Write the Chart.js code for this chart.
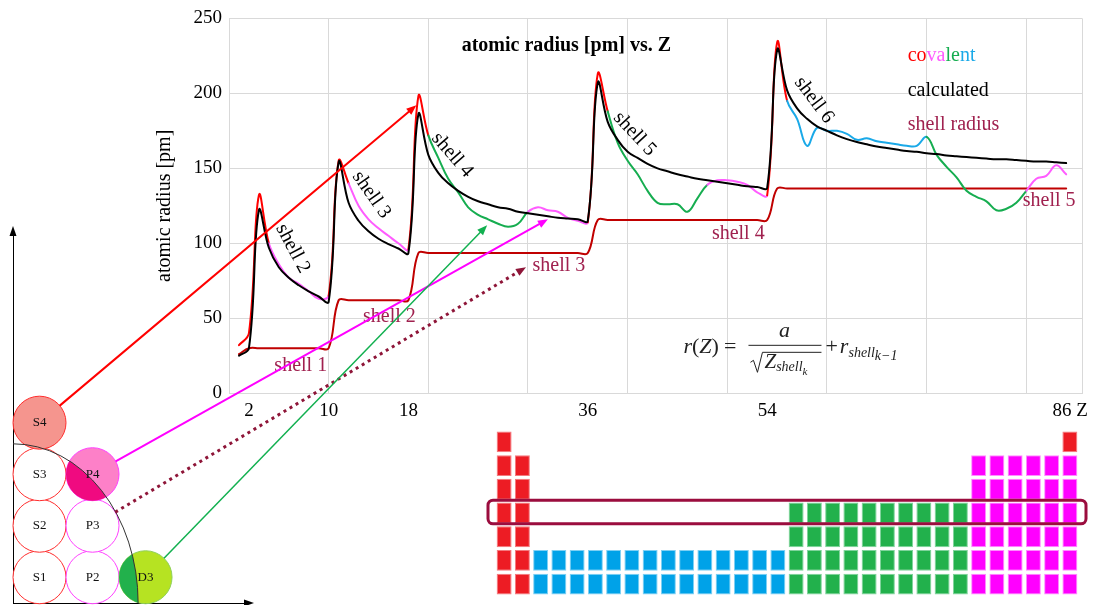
<!DOCTYPE html>
<html>
<head>
<meta charset="utf-8">
<script src="https://cdn.jsdelivr.net/npm/chart.js@4.4.1/dist/chart.umd.min.js"></script>
<style>
  body { margin: 0; background: #fff; }
  #wrap { position: relative; width: 1094px; height: 605px; overflow: hidden; }
  canvas { position: absolute; }
  #shells { left: 0; top: 220px; }
  #table { left: 480px; top: 425px; }
  #radius { left: 0; top: 0; }
</style>
</head>
<body>
<div id="wrap">
  <canvas id="shells" width="270" height="385"></canvas>
  <canvas id="table" width="614" height="180"></canvas>
  <canvas id="radius" width="1094" height="605"></canvas>
</div>
<script>
// ---- data, Z = index + 1 (H .. Po) ----
const covalent = [
  32, 40, 132, 100, 86, 77, 73, 68, 63, 65,
  155, 140, 125, 116, 110, 105, 100, 96,
  198, 172, 157, 143, 134, 124, 119, 116, 113, 111, 113, 121, 124, 122, 121, 117, 115, 114,
  213, 188, 167, 155, 146, 135, 127, 126, 126, 121, 130, 139, 142, 142, 141, 139, 134, 132,
  234, 195, 183, 165, 177, 175, 175, 173, 169, 170, 168, 167, 166, 165, 165, 171,
  159, 151, 144, 135, 131, 128, 122, 123, 127, 135, 143, 145, 152, 146
];
const calculated = [
  25, 30, 122, 97, 84, 77, 72, 68, 64.5, 61,
  154, 127, 115, 108, 103, 99.5, 96.5, 93.5,
  186, 159, 147, 140, 135, 131, 128, 126, 124, 123, 121, 120, 119, 118, 117, 116.5, 116, 115,
  207, 181, 169, 161, 157, 153, 150, 148, 146, 144.5, 143, 142, 141, 140, 139, 138, 137.5, 137,
  229, 202, 190, 183, 178, 175, 172, 169.5, 167.5, 166, 164.5, 163.5, 162.5, 161.5, 161, 160,
  159.5, 158.5, 158, 157.5, 157, 156.5, 156, 156, 155.5, 155, 154.5, 154.5, 154, 153.5
];
const shellRadius = [
  26, 30, 30, 30, 30, 30, 30, 30, 30, 30,
  62, 62, 62, 62, 62, 62, 62, 62,
  93.5, 93.5, 93.5, 93.5, 93.5, 93.5, 93.5, 93.5, 93.5, 93.5, 93.5, 93.5, 93.5, 93.5, 93.5, 93.5, 93.5, 93.5,
  115.5, 115.5, 115.5, 115.5, 115.5, 115.5, 115.5, 115.5, 115.5, 115.5, 115.5, 115.5, 115.5, 115.5, 115.5, 115.5, 115.5, 115.5,
  136.5, 136.5, 136.5, 136.5, 136.5, 136.5, 136.5, 136.5, 136.5, 136.5, 136.5, 136.5, 136.5, 136.5, 136.5,
  136.5, 136.5, 136.5, 136.5, 136.5, 136.5, 136.5, 136.5, 136.5, 136.5, 136.5, 136.5, 136.5, 136.5, 136.5
];
// block of each element (s, p, d, f)
const zBlock = 'sssspppppp' + 'sspppppp' + 'ssddddddddddpppppp' + 'ssddddddddddpppppp' +
  'ssffffffffffffffddddddddddpppp';

const gridZ = [0, 10, 20, 30, 40, 50, 60, 70, 80, 85.6];
const tickZ = [2, 10, 18, 36, 54, 84.4];
const tickText = ['2', '10', '18', '36', '54', '86 Z'];

// shell labels on the step line and on the calculated curve
const shellNames = ['shell 1', 'shell 2', 'shell 3', 'shell 4', 'shell 5'];
const shellNameZ = [7.2, 16.1, 33.1, 51.1, 82.3];
const shellNameR = [18, 51, 85, 106.4, 128.3];
const curveNames = ['shell 2', 'shell 3', 'shell 4', 'shell 5', 'shell 6'];
const curveNameZ = [6.4, 14.3, 22.4, 40.7, 58.7];
const curveNameR = [96.4, 132.3, 158.9, 172.9, 195.5];
const curveNameAngle = [62, 55, 49, 47, 53];

// orbital diagram
const orbitals = ['S1', 'S2', 'S3', 'S4', 'P2', 'P3', 'P4', 'D3'];
const orbitalCol = [0.5, 0.5, 0.5, 0.5, 1.5, 1.5, 1.5, 2.5];
const orbitalRow = [0.5, 1.5, 2.5, 3.5, 0.5, 1.5, 2.5, 0.5];
const boundaryRx = 2.36, boundaryRy = 3.09;

// arrows from orbitals into the radius chart
const arrowFrom = ['S4', 'P4', 'P3', 'D3'];
const arrowToZ = [18.8, 32.0, 29.8, 25.9];
const arrowToR = [192, 116, 84, 112];

// periodic table by block
const tableRows = [
  'S' + '..............................' + 'S',
  'SS' + '........................' + 'PPPPPP',
  'SS' + '........................' + 'PPPPPP',
  'SS' + '..............' + 'DDDDDDDDDD' + 'PPPPPP',
  'SS' + '..............' + 'DDDDDDDDDD' + 'PPPPPP',
  'SS' + 'FFFFFFFFFFFFFF' + 'DDDDDDDDDD' + 'PPPPPP',
  'SS' + 'FFFFFFFFFFFFFF' + 'DDDDDDDDDD' + 'PPPPPP'
];
const highlightPeriod = 4;

// ---- styles ----
const FONT = '"Liberation Serif"';
Chart.defaults.font.family = FONT;
const lineColor = { s: '#ff0000', p: '#ff5cff', d: '#16ad50', f: '#1aa9e8' };
const cellColor = { S: '#ed1c24', P: '#ff00ff', D: '#22b14c', F: '#00a2e8' };
const cellEdge = { S: '#f4797e', P: '#ff8cff', D: '#7fd39b', F: '#7fd0f3' };
const maroon = '#a0214f';
const orbitalFill = ['#fff', '#fff', '#fff', '#f5958e', '#fff', '#fff', '#fd80c8', '#b6e322'];
const orbitalEdge = ['#ff2d2d', '#ff2d2d', '#ff2d2d', '#ff2d2d', '#ff40ff', '#ff40ff', '#ff40ff', '#8fd05a'];
const orbitalInner = [null, null, null, null, null, null, '#f00a80', '#22b14c'];
const arrowStyle = [
  { color: '#ff0000', width: 2, dash: [] },
  { color: '#ff00ff', width: 2, dash: [] },
  { color: '#8e1538', width: 3, dash: [3, 4] },
  { color: '#12b050', width: 1.5, dash: [] }
];
const R = 26.5;

function arrow(ctx, x0, y0, x1, y1, st) {
  const a = Math.atan2(y1 - y0, x1 - x0), c = Math.cos(a), s = Math.sin(a);
  ctx.strokeStyle = st.color; ctx.fillStyle = st.color; ctx.lineWidth = st.width;
  ctx.setLineDash(st.dash);
  ctx.beginPath(); ctx.moveTo(x0, y0); ctx.lineTo(x1 - 8 * c, y1 - 8 * s); ctx.stroke();
  ctx.setLineDash([]);
  ctx.beginPath(); ctx.moveTo(x1, y1);
  ctx.lineTo(x1 - 10 * c + 4 * s, y1 - 10 * s - 4 * c);
  ctx.lineTo(x1 - 10 * c - 4 * s, y1 - 10 * s + 4 * c);
  ctx.closePath(); ctx.fill();
}

// ---- orbital diagram ----
const shellNotes = {
  id: 'shellNotes',
  afterDatasetsDraw(chart) {
    const { ctx, chartArea: a, scales: { x, y } } = chart;
    const ox = x.getPixelForValue(0), oy = y.getPixelForValue(0);
    const rx = x.getPixelForValue(boundaryRx) - ox, ry = oy - y.getPixelForValue(boundaryRy);
    ctx.save();
    ctx.beginPath(); ctx.ellipse(ox, oy, rx, ry, 0, 0, Math.PI * 2); ctx.clip();
    orbitals.forEach((n, i) => {
      if (!orbitalInner[i]) return;
      ctx.fillStyle = orbitalInner[i];
      ctx.beginPath();
      ctx.arc(x.getPixelForValue(orbitalCol[i]), y.getPixelForValue(orbitalRow[i]), R, 0, Math.PI * 2);
      ctx.fill();
    });
    ctx.restore();
    ctx.save();
    ctx.strokeStyle = '#333'; ctx.lineWidth = 1;
    ctx.beginPath(); ctx.ellipse(ox, oy, rx, ry, 0, -Math.PI / 2, 0); ctx.stroke();
    ctx.fillStyle = '#111'; ctx.font = '13px ' + FONT;
    ctx.textAlign = 'center'; ctx.textBaseline = 'middle';
    orbitals.forEach((n, i) => ctx.fillText(n, x.getPixelForValue(orbitalCol[i]), y.getPixelForValue(orbitalRow[i])));
    ctx.fillStyle = '#000';
    ctx.beginPath(); ctx.moveTo(a.left, a.top - 4); ctx.lineTo(a.left - 3.5, a.top + 6); ctx.lineTo(a.left + 3.5, a.top + 6); ctx.fill();
    ctx.beginPath(); ctx.moveTo(a.right + 4, a.bottom); ctx.lineTo(a.right - 6, a.bottom - 3.5); ctx.lineTo(a.right - 6, a.bottom + 3.5); ctx.fill();
    ctx.restore();
  }
};

const hidden = { grid: { display: false, drawTicks: false }, ticks: { display: false }, border: { color: '#000', width: 1 } };
const shellChart = new Chart(document.getElementById('shells'), {
  type: 'scatter',
  data: {
    datasets: [{
      data: orbitals.map((n, i) => ({ x: orbitalCol[i], y: orbitalRow[i] })),
      pointRadius: R,
      backgroundColor: orbitalFill,
      borderColor: orbitalEdge,
      borderWidth: 1,
      clip: false
    }]
  },
  options: {
    responsive: false, animation: false, events: [],
    layout: { autoPadding: false, padding: { left: 13, top: 10, right: 20, bottom: 2 } },
    plugins: { legend: { display: false }, tooltip: { enabled: false } },
    scales: {
      x: { min: 0, max: 4.47, ...hidden },
      y: { min: 0, max: 7.24, ...hidden }
    }
  },
  plugins: [shellNotes]
});

// ---- periodic table ----
const tableBox = {
  id: 'tableBox',
  afterDatasetsDraw(chart) {
    const { ctx, chartArea: a, scales: { y } } = chart;
    const t = y.getPixelForValue(highlightPeriod - 0.5), b = y.getPixelForValue(highlightPeriod + 0.5);
    ctx.save();
    ctx.strokeStyle = '#9b0d3e'; ctx.lineWidth = 3;
    ctx.beginPath(); ctx.roundRect(a.left - 7, t - 1, a.width + 14, b - t, 5); ctx.stroke();
    ctx.restore();
  }
};

new Chart(document.getElementById('table'), {
  type: 'bar',
  data: {
    labels: tableRows[0].split('').map((_, i) => i + 1),
    datasets: tableRows.map((row, r) => ({
      data: row.split('').map(ch => ch === '.' ? null : [r + 1 - 0.44, r + 1 + 0.44]),
      backgroundColor: row.split('').map(ch => cellColor[ch] || 'transparent'),
      borderColor: row.split('').map(ch => cellEdge[ch] || 'transparent'),
      borderWidth: 1,
      borderSkipped: false,
      barPercentage: 0.82,
      categoryPercentage: 1,
      grouped: false
    }))
  },
  options: {
    responsive: false, animation: false, events: [],
    layout: { padding: { left: 15, right: 15, top: 5, bottom: 9 } },
    plugins: { legend: { display: false }, tooltip: { enabled: false } },
    scales: {
      x: { display: false },
      y: { display: false, min: 0.5, max: 7.5, reverse: true }
    }
  },
  plugins: [tableBox]
});

// ---- radius chart ----
const notes = {
  id: 'notes',
  afterDraw(chart) {
    const { ctx, scales: { x, y } } = chart;
    const px = z => x.getPixelForValue(z), py = v => y.getPixelForValue(v);
    ctx.save();
    ctx.textAlign = 'center'; ctx.textBaseline = 'middle';

    ctx.font = 'bold 20px ' + FONT; ctx.fillStyle = '#000';
    ctx.fillText('atomic radius [pm] vs. Z', px(33.85), py(231.4));

    // legend
    ctx.textAlign = 'left'; ctx.font = '20px ' + FONT;
    let lx = px(68.1);
    [['co', lineColor.s], ['va', lineColor.p], ['le', lineColor.d], ['nt', lineColor.f]].forEach(([t, c]) => {
      ctx.fillStyle = c; ctx.fillText(t, lx, py(225.4)); lx += ctx.measureText(t).width;
    });
    ctx.fillStyle = '#000'; ctx.fillText('calculated', px(68.1), py(201.5));
    ctx.fillStyle = maroon; ctx.fillText('shell radius', px(68.1), py(178.9));

    // shell labels
    ctx.textAlign = 'center';
    shellNames.forEach((t, i) => ctx.fillText(t, px(shellNameZ[i]), py(shellNameR[i])));
    ctx.fillStyle = '#000';
    curveNames.forEach((t, i) => {
      ctx.save();
      ctx.translate(px(curveNameZ[i]), py(curveNameR[i]));
      ctx.rotate(curveNameAngle[i] * Math.PI / 180);
      ctx.fillText(t, 0, 0);
      ctx.restore();
    });

    // formula r(Z) = a / sqrt(Z_shell_k) + r_shell_(k-1)
    const fx = px(45.6), fy = py(26.6);
    const it = s => 'italic ' + s + 'px ' + FONT, up = s => s + 'px ' + FONT;
    ctx.fillStyle = '#222'; ctx.strokeStyle = '#222'; ctx.textBaseline = 'alphabetic'; ctx.textAlign = 'left';
    let cx = fx;
    const put = (t, f, dy) => { ctx.font = f; ctx.fillText(t, cx, fy + dy); cx += ctx.measureText(t).width; };
    put('r', it(22), 0); put('(', up(22), 0); put('Z', it(22), 0); put(')', up(22), 0);
    cx += 5; put('=', up(22), 0);
    ctx.lineWidth = 1;
    ctx.beginPath(); ctx.moveTo(fx + 65, fy - 8); ctx.lineTo(fx + 138, fy - 8); ctx.stroke();
    ctx.font = it(22); ctx.textAlign = 'center'; ctx.fillText('a', fx + 101, fy - 16);
    ctx.textAlign = 'left';
    ctx.beginPath();
    ctx.moveTo(fx + 67, fy + 9); ctx.lineTo(fx + 70, fy + 7); ctx.lineTo(fx + 74, fy + 19);
    ctx.lineTo(fx + 79, fy - 1); ctx.lineTo(fx + 138, fy - 1); ctx.stroke();
    cx = fx + 81; put('Z', it(21), 15); put('shell', it(14), 18); put('k', it(11), 22);
    cx = fx + 142; put('+', up(22), 0); cx += 2; put('r', it(22), 0);
    put('shell', it(14), 4); put('k\u22121', it(14), 7);

    // arrows from the orbital diagram
    const sx = shellChart.scales.x, sy = shellChart.scales.y;
    const ofx = shellChart.canvas.offsetLeft - chart.canvas.offsetLeft;
    const ofy = shellChart.canvas.offsetTop - chart.canvas.offsetTop;
    arrowFrom.forEach((n, i) => {
      const k = orbitals.indexOf(n);
      const cx0 = sx.getPixelForValue(orbitalCol[k]) + ofx, cy0 = sy.getPixelForValue(orbitalRow[k]) + ofy;
      const tx = px(arrowToZ[i]), ty = py(arrowToR[i]);
      const d = Math.hypot(tx - cx0, ty - cy0);
      arrow(ctx, cx0 + R * (tx - cx0) / d, cy0 + R * (ty - cy0) / d, tx, ty, arrowStyle[i]);
    });
    ctx.restore();
  }
};

const points = arr => arr.map((v, i) => ({ x: i + 1, y: v }));
new Chart(document.getElementById('radius'), {
  type: 'line',
  data: {
    datasets: [
      { label: 'calculated', data: points(calculated), borderColor: '#000', xAxisID: 'x' },
      {
        label: 'covalent', data: points(covalent), borderColor: lineColor.s, xAxisID: 'x',
        segment: { borderColor: c => lineColor[zBlock[c.p1DataIndex]] }
      },
      { label: 'shell radius', data: points(shellRadius), borderColor: '#c00000', xAxisID: 'x' }
    ]
  },
  options: {
    responsive: false, animation: false, events: [],
    layout: { padding: { left: 142.5, top: 17, right: 9, bottom: 177 } },
    plugins: { legend: { display: false }, tooltip: { enabled: false } },
    elements: {
      point: { radius: 0 },
      line: { borderWidth: 2, tension: 0.4, borderJoinStyle: 'round', borderCapStyle: 'round' }
    },
    scales: {
      x: {
        type: 'linear', min: 0, max: 85.6,
        afterBuildTicks: s => { s.ticks = gridZ.map(v => ({ value: v })); },
        grid: { color: '#d9d9d9', drawTicks: false },
        border: { color: '#d9d9d9' },
        ticks: { display: false }
      },
      xl: {
        type: 'linear', position: 'bottom', min: 0, max: 85.6,
        afterBuildTicks: s => { s.ticks = tickZ.map(v => ({ value: v })); },
        grid: { display: false, drawTicks: false },
        border: { display: false },
        ticks: {
          padding: 6, color: '#000', font: { size: 19 }, autoSkip: false, maxRotation: 0,
          callback: (v, i) => tickText[i]
        }
      },
      y: {
        min: 0, max: 250,
        grid: { color: '#d9d9d9', drawTicks: false },
        border: { color: '#d9d9d9' },
        ticks: { stepSize: 50, padding: 7, color: '#000', font: { size: 19 } },
        title: {
          display: true, text: 'atomic radius [pm]', color: '#000',
          font: { size: 20 }, padding: { top: 10, bottom: 10 }
        }
      }
    }
  },
  plugins: [notes]
});
</script>
</body>
</html>
